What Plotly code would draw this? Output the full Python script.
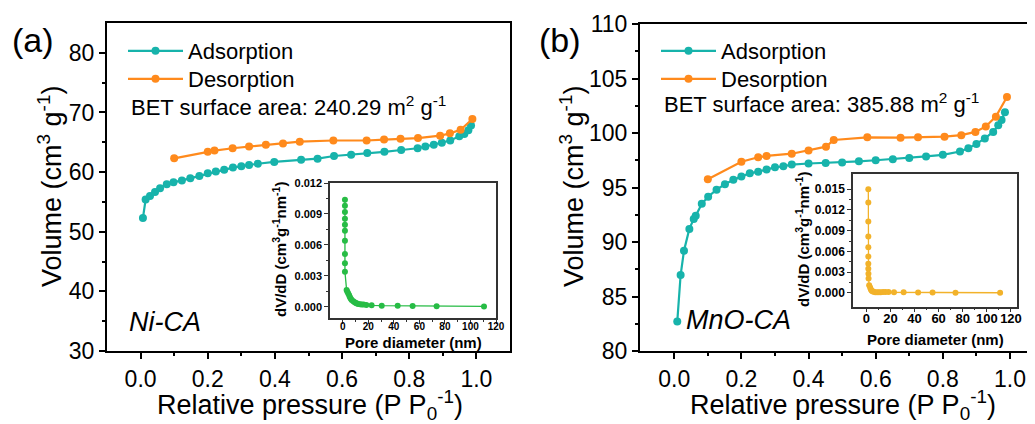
import plotly.graph_objects as go

# ---------------- data ----------------
# Panel (a) Ni-CA isotherm
ni_ads_p = [0.007, 0.015, 0.028, 0.043, 0.058, 0.078, 0.098, 0.123, 0.148, 0.175, 0.200, 0.224, 0.249,
            0.275, 0.300, 0.323, 0.349, 0.398, 0.478, 0.527, 0.576, 0.627, 0.675, 0.726, 0.776, 0.825,
            0.848, 0.873, 0.897, 0.922, 0.949, 0.964, 0.976, 0.984]
ni_ads_v = [52.3, 55.4, 56.0, 56.65, 57.3, 57.95, 58.3, 58.6, 58.95, 59.35, 59.8, 60.1, 60.4,
            60.75, 61.0, 61.2, 61.4, 61.7, 62.05, 62.25, 62.7, 62.9, 63.2, 63.4, 63.7, 64.0,
            64.3, 64.6, 64.9, 65.3, 66.0, 66.4, 67.0, 67.8]
ni_des_p = [0.100, 0.200, 0.220, 0.274, 0.323, 0.373, 0.424, 0.474, 0.574, 0.673, 0.725, 0.774,
            0.826, 0.892, 0.921, 0.953, 0.988]
ni_des_v = [62.3, 63.4, 63.6, 64.0, 64.3, 64.6, 64.8, 65.1, 65.3, 65.3, 65.45, 65.6,
            65.7, 66.1, 66.5, 67.1, 68.9]

# Panel (b) MnO-CA isotherm
mn_ads_p = [0.009, 0.019, 0.029, 0.045, 0.058, 0.064, 0.082, 0.101, 0.126, 0.151, 0.176, 0.200, 0.225,
            0.250, 0.275, 0.300, 0.325, 0.350, 0.400, 0.451, 0.500, 0.550, 0.600, 0.651, 0.700,
            0.750, 0.800, 0.851, 0.876, 0.900, 0.925, 0.950, 0.965, 0.975, 0.985]
mn_ads_v = [82.7, 86.97, 89.2, 91.2, 92.1, 92.4, 93.5, 94.15, 94.8, 95.3, 95.7, 96.0, 96.3,
            96.45, 96.65, 96.85, 96.95, 97.1, 97.2, 97.25, 97.3, 97.4, 97.5, 97.6, 97.7,
            97.85, 98.0, 98.3, 98.6, 99.0, 99.5, 100.1, 100.7, 101.2, 101.9]
mn_des_p = [0.100, 0.200, 0.250, 0.275, 0.350, 0.400, 0.452, 0.475, 0.575, 0.674, 0.726, 0.805,
            0.855, 0.897, 0.928, 0.958, 0.991]
mn_des_v = [95.75, 97.37, 97.77, 97.9, 98.1, 98.4, 98.75, 99.36, 99.6, 99.57, 99.6, 99.66,
            99.8, 100.1, 100.6, 101.5, 103.3]

# Insets: pore size distribution
ni_pd_d = [1.7, 1.7, 1.7, 1.7, 1.7, 1.7, 1.7, 1.7, 1.7, 1.7, 3.0, 3.6, 4.3, 5.0, 5.6, 6.3, 7.0, 8.2,
           9.3, 10.3, 11.1, 12.1, 13.5, 14.8, 16.3, 18.5, 22.6, 30.5, 43.0, 54.7, 73.5, 110.6]
ni_pd_v = [0.01038, 0.00979, 0.00918, 0.00853, 0.00794, 0.00736, 0.00639, 0.00512, 0.00422, 0.0034,
           0.00162, 0.00145, 0.00128, 0.0011, 0.00092, 0.00078, 0.00064, 0.00052, 0.00042, 0.00035,
           0.0003, 0.00026, 0.00024, 0.00022, 0.0002, 0.00017, 0.00013, 0.0001, 0.00008,
           0.00006, 0.00004, 0.00002]
mn_pd_d = [1.7, 1.7, 1.7, 1.7, 1.7, 1.7, 1.7, 1.7, 1.8, 1.9, 2.4, 3.2, 3.8, 4.5, 5.2, 6.0, 7.5,
           9.0, 10.5, 12.0, 14.0, 16.0, 18.5, 23.0, 31.0, 43.0, 55.0, 74.0, 111.0]
mn_pd_v = [0.01498, 0.01306, 0.01033, 0.00814, 0.0066, 0.00527, 0.00422, 0.0035, 0.00278, 0.00207,
           0.0011, 0.00078, 0.0005, 0.00032, 0.00022, 0.00015, 0.0001, 0.00009, 0.00009, 0.0001,
           0.00011, 0.00012, 0.00012, 0.0001, 0.00008, 0.00006, 0.00005, 0.00003, 0.00002]

# tick labels
main_x_ticks = [0.0, 0.2, 0.4, 0.6, 0.8, 1.0]
a_y_ticks = [30, 40, 50, 60, 70, 80]
b_y_ticks = [80, 85, 90, 95, 100, 105, 110]
ia_y_ticks = [0.000, 0.003, 0.006, 0.009, 0.012]
ib_y_ticks = [0.000, 0.003, 0.006, 0.009, 0.012, 0.015]
inset_x_ticks = [0, 20, 40, 60, 80, 100, 120]

TEAL = "#17B3AB"
ORANGE = "#FF8A1C"
GREEN = "#27BC45"
GOLD = "#F2B22A"
FONT = "Arial, Liberation Sans, sans-serif"

# the page body has an 8px margin; build the figure so it fills the window exactly
OFF = 8
W, H = 1035 - OFF, 424 - OFF


def px_x(v):
    return (v - OFF) / W


def px_y(v):
    return 1 - (v - OFF) / H


fig = go.Figure()

# main traces
fig.add_trace(go.Scatter(x=ni_ads_p, y=ni_ads_v, mode="lines+markers", name="Adsorption",
                         line=dict(color=TEAL, width=2.2), marker=dict(color=TEAL, size=8),
                         xaxis="x", yaxis="y", legend="legend"))
fig.add_trace(go.Scatter(x=ni_des_p, y=ni_des_v, mode="lines+markers", name="Desorption",
                         line=dict(color=ORANGE, width=2.2), marker=dict(color=ORANGE, size=8),
                         xaxis="x", yaxis="y", legend="legend2"))
fig.add_trace(go.Scatter(x=mn_ads_p, y=mn_ads_v, mode="lines+markers", name="Adsorption",
                         line=dict(color=TEAL, width=2.2), marker=dict(color=TEAL, size=8),
                         xaxis="x2", yaxis="y2", legend="legend3"))
fig.add_trace(go.Scatter(x=mn_des_p, y=mn_des_v, mode="lines+markers", name="Desorption",
                         line=dict(color=ORANGE, width=2.2), marker=dict(color=ORANGE, size=8),
                         xaxis="x2", yaxis="y2", legend="legend4"))
# insets
fig.add_trace(go.Scatter(x=ni_pd_d, y=ni_pd_v, mode="lines+markers", showlegend=False,
                         line=dict(color=GREEN, width=1.3), marker=dict(color=GREEN, size=6),
                         xaxis="x3", yaxis="y3"))
fig.add_trace(go.Scatter(x=mn_pd_d, y=mn_pd_v, mode="lines+markers", showlegend=False,
                         line=dict(color=GOLD, width=1.3), marker=dict(color=GOLD, size=6),
                         xaxis="x4", yaxis="y4"))

main_axis = dict(showgrid=False, zeroline=False, showline=True, linecolor="black", linewidth=2,
                 ticks="outside", ticklen=6, tickwidth=2, tickcolor="black", automargin=False,
                 tickfont=dict(family=FONT, size=23, color="black"))
inset_axis = dict(showgrid=False, zeroline=False, showline=True, linecolor="#333333", linewidth=1.5,
                  mirror=True, ticks="outside", ticklen=4, tickwidth=1.2, tickcolor="#333333",
                  automargin=False)


def tf(size):
    return dict(family=FONT, size=size, color="black", weight="bold")


def leg(x, yc):
    return dict(x=px_x(x), y=px_y(yc), xanchor="left", yanchor="middle", bgcolor="rgba(0,0,0,0)",
                font=dict(family=FONT, size=22, color="black"), itemwidth=55, tracegroupgap=0,
                itemclick=False, itemdoubleclick=False)


fig.update_layout(
    template="none",
    width=W, height=H, margin=dict(l=0, r=0, t=0, b=0, autoexpand=False),
    paper_bgcolor="white", plot_bgcolor="white",
    xaxis=dict(main_axis, domain=[px_x(107), px_x(510)], range=[-0.1, 1.1], anchor="y",
               tickvals=main_x_ticks, ticktext=[f"{v:.1f}" for v in main_x_ticks], mirror=True,
               minor=dict(tickvals=[0.1, 0.3, 0.5, 0.7, 0.9], ticklen=3, tickwidth=2, tickcolor="black",
                          ticks="outside")),
    yaxis=dict(main_axis, domain=[px_y(351), px_y(23)], range=[30, 85], anchor="x",
               tickvals=a_y_ticks, mirror=True,
               minor=dict(tickvals=[35, 45, 55, 65, 75], ticklen=3, tickwidth=2, tickcolor="black",
                          ticks="outside")),
    xaxis2=dict(main_axis, domain=[px_x(640), 1.0], range=[-0.102, 1.0745], anchor="y2",
                tickvals=main_x_ticks, ticktext=[f"{v:.1f}" for v in main_x_ticks], mirror=True,
                minor=dict(tickvals=[0.1, 0.3, 0.5, 0.7, 0.9], ticklen=3, tickwidth=2, tickcolor="black",
                           ticks="outside")),
    yaxis2=dict(main_axis, domain=[px_y(351), px_y(24)], range=[80, 110], anchor="x2",
                tickvals=b_y_ticks, mirror=False,
                minor=dict(tickvals=[82.5, 87.5, 92.5, 97.5, 102.5, 107.5], ticklen=3, tickwidth=2,
                           tickcolor="black", ticks="outside")),
    xaxis3=dict(inset_axis, domain=[px_x(330), px_x(496)], range=[-10, 120], anchor="y3",
                tickvals=inset_x_ticks, ticklabelstandoff=-6, tickfont=tf(10),
                minor=dict(tickvals=[10, 30, 50, 70, 90, 110], ticklen=2, tickcolor="#333333", ticks="outside")),
    yaxis3=dict(inset_axis, domain=[px_y(318), px_y(183)], range=[-0.0011, 0.012], anchor="x3",
                tickvals=ia_y_ticks, ticktext=[f"{v:.3f}" for v in ia_y_ticks], tickfont=tf(11),
                minor=dict(tickvals=[0.0015, 0.0045, 0.0075, 0.0105], ticklen=2, tickcolor="#333333",
                           ticks="outside")),
    xaxis4=dict(inset_axis, domain=[px_x(853), px_x(1017)], range=[-11, 125], anchor="y4",
                tickvals=inset_x_ticks, ticklabelstandoff=-5, tickfont=tf(13),
                minor=dict(tickvals=[10, 30, 50, 70, 90, 110], ticklen=2, tickcolor="#333333", ticks="outside")),
    yaxis4=dict(inset_axis, domain=[px_y(306.7), px_y(174)], range=[-0.002, 0.0172], anchor="x4",
                tickvals=ib_y_ticks, ticktext=[f"{v:.3f}" for v in ib_y_ticks], tickfont=tf(12),
                minor=dict(tickvals=[0.0015, 0.0045, 0.0075, 0.0105, 0.0135], ticklen=2,
                           tickcolor="#333333", ticks="outside")),
    legend=leg(123, 51),
    legend2=leg(123, 79),
    legend3=leg(656, 51),
    legend4=leg(656, 79),
)

annots = [
    # panel labels
    dict(text="(a)", x=px_x(33), y=px_y(40), font=dict(size=34)),
    dict(text="(b)", x=px_x(560), y=px_y(40), font=dict(size=34)),
    # BET
    dict(text="BET surface area: 240.29 m<sup>2</sup> g<sup>-1</sup>", x=px_x(129), y=px_y(106),
         xanchor="left", font=dict(size=22)),
    dict(text="BET surface area: 385.88 m<sup>2</sup> g<sup>-1</sup>", x=px_x(662), y=px_y(103),
         xanchor="left", font=dict(size=22)),
    # sample names
    dict(text="<i>Ni-CA</i>", x=px_x(127), y=px_y(322), xanchor="left", font=dict(size=27)),
    dict(text="<i>MnO-CA</i>", x=px_x(684), y=px_y(320), xanchor="left", font=dict(size=27)),
    # main axis titles
    dict(text="Volume (cm<sup>3</sup> g<sup>-1</sup>)", x=px_x(50), y=px_y(187), textangle=-90,
         font=dict(size=27)),
    dict(text="Volume (cm<sup>3</sup> g<sup>-1</sup>)", x=px_x(572), y=px_y(187), textangle=-90,
         font=dict(size=27)),
    dict(text="Relative pressure (P P<sub>0</sub><sup>-1</sup>)", x=px_x(310), y=px_y(405),
         font=dict(size=27)),
    dict(text="Relative pressure (P P<sub>0</sub><sup>-1</sup>)", x=px_x(843), y=px_y(405),
         font=dict(size=27)),
    # inset axis titles
    dict(text="<b>dV/dD (cm<sup>3</sup>g<sup>-1</sup>nm<sup>-1</sup>)</b>", x=px_x(279), y=px_y(250),
         textangle=-90, font=dict(size=15)),
    dict(text="<b>Pore diameter (nm)</b>", x=px_x(413), y=px_y(342), font=dict(size=15)),
    dict(text="<b>dV/dD (cm<sup>3</sup>g<sup>-1</sup>nm<sup>-1</sup>)</b>", x=px_x(802), y=px_y(240),
         textangle=-90, font=dict(size=15)),
    dict(text="<b>Pore diameter (nm)</b>", x=px_x(935), y=px_y(339), font=dict(size=15)),
]
for a in annots:
    a.setdefault("xanchor", "center")
    a.setdefault("yanchor", "middle")
    a["font"] = dict(family=FONT, color="black", **a["font"])
    fig.add_annotation(xref="paper", yref="paper", showarrow=False, **a)

fig.write_html("out.html")
